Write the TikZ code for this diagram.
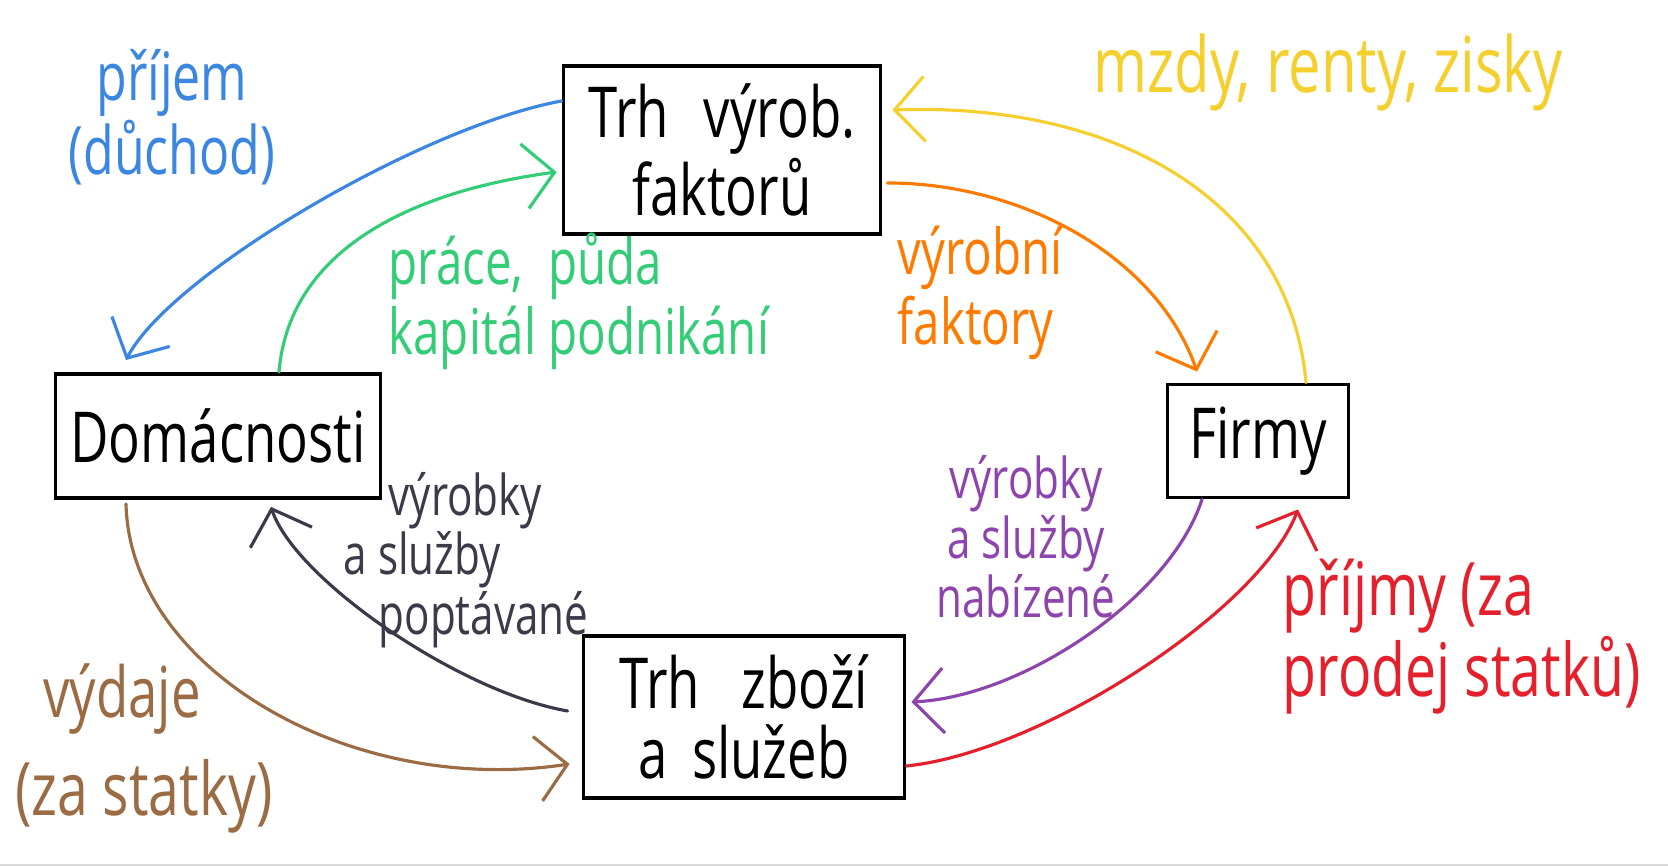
\documentclass[tikz,border=0pt]{standalone}
\usepackage{fontspec}
\setmainfont{Open Sans}[FakeStretch=0.75]
\usetikzlibrary{arrows.meta}

\definecolor{prijem}{HTML}{3A86E0}
\definecolor{prace}{HTML}{33CC77}
\definecolor{faktory}{HTML}{FF7A00}
\definecolor{mzdy}{HTML}{F5CF2E}
\definecolor{nabidka}{HTML}{8E44AD}
\definecolor{trzby}{HTML}{E3202B}
\definecolor{poptavka}{HTML}{3A3A48}
\definecolor{vydaje}{HTML}{9B6B43}

\newcommand{\handsize}[2]{\fontsize{#1}{#2}\selectfont\lineskiplimit=-50pt\lineskip=0pt\relax}

\begin{document}
\begin{tikzpicture}
	[every node/.style={font=\handsize{20}{22}},
	box/.style={draw,line width=1.1pt,align=center,inner sep=0pt},
	lab/.style={align=center,inner sep=0pt},
	flow/.style={line width=0.9pt,line cap=round,-{Straight Barb[length=3mm,width=6.5mm]}}]
	\useasboundingbox (0,0) rectangle (16.68,8.67);
	% trhy a subjekty
	\node (trhf) [box,minimum width=3.17cm,minimum height=1.68cm] at (7.22,7.17) {Trh\hspace{0.3em} výrob.\\faktorů};
	\node (dom) [box,minimum width=3.25cm,minimum height=1.24cm] at (2.18,4.31) {Domácnosti};
	\node (firmy) [box,minimum width=1.81cm,minimum height=1.13cm] at (12.58,4.26) {Firmy};
	\node (trhz) [box,minimum width=3.21cm,minimum height=1.62cm,font=\handsize{20}{20}] at (7.44,1.50) {Trh\hspace{0.4em} zboží\\a\hspace{0.15em} služeb};
	% toky
	\draw [flow,prijem] ([yshift=4.9mm]trhf.west) .. controls +(-1.41,-0.26) and +(0.44,0.85) .. ([xshift=-9.2mm,yshift=1.2mm]dom.north);
	\draw [flow,prace] ([xshift=6.1mm]dom.north) .. controls +(0.1,1.2) and +(-1.5,-0.2) .. ([xshift=-0.5mm,yshift=-2.2mm]trhf.west);
	\draw [flow,faktory] ([xshift=0.5mm,yshift=-3.3mm]trhf.east) .. controls +(1.35,0) and +(-0.4,1.15) .. ([xshift=-6.1mm,yshift=1.1mm]firmy.north);
	\draw [flow,mzdy] ([xshift=4.8mm]firmy.north) .. controls +(-0.16,1.78) and +(2.3,0.08) .. ([xshift=1mm,yshift=4mm]trhf.east);
	\draw [flow,nabidka] ([xshift=-5.6mm]firmy.south) .. controls +(-0.32,-0.99) and +(1.1,0.05) .. ([xshift=0.5mm,yshift=1.5mm]trhz.east);
	\draw [flow,trzby] ([yshift=-4.9mm]trhz.east) .. controls +(1.36,0.14) and +(-0.38,-1.0) .. ([xshift=4mm,yshift=-1mm]firmy.south);
	\draw [flow,poptavka] ([xshift=-1.4mm,yshift=0.6mm]trhz.west) .. controls +(-1.09,0.19) and +(0.24,-0.72) .. ([xshift=5.3mm,yshift=-0.7mm]dom.south);
	\draw [flow,vydaje] ([xshift=-9.2mm,yshift=-0.4mm]dom.south) .. controls +(0.04,-1.65) and +(-2.2,-0.33) .. ([xshift=-1.2mm,yshift=-4.7mm]trhz.west);
	% popisky
	\node (prijemlab) [lab,prijem,font=\handsize{19}{21}] at (1.72,7.50) {příjem\\(důchod)};
	\node (pracelab) [lab,prace,align=left,anchor=west,font=\handsize{18}{20}] at (3.88,5.66) {\makebox[1.6cm][l]{práce,}půda\\\makebox[1.6cm][l]{kapitál}podnikání};
	\node (faktorylab) [lab,faktory,align=left,anchor=west,font=\handsize{18}{20}] at (8.97,5.74) {výrobní\\faktory};
	\node (mzdylab) [lab,mzdy,font=\handsize{22}{24}] at (13.28,7.95) {mzdy, renty, zisky};
	\node (nabidkalab) [lab,nabidka,font=\handsize{16}{17}] at (10.26,3.30) {výrobky\\a služby\\nabízené};
	\node (trzbylab) [lab,trzby,align=left,anchor=west,font=\handsize{21}{23}] at (12.82,2.30) {příjmy (za\\prodej statků)};
	\node (poptavkalab) [lab,poptavka,align=left,anchor=west,font=\handsize{16}{17}] at (3.43,3.07) {\hspace*{4.5mm}výrobky\\a služby\\\hspace*{3.5mm}poptávané};
	\node (vydajelab) [lab,vydaje] at (1.22,1.68) {výdaje};
	\node (statkylab) [lab,vydaje,font=\handsize{21}{23}] at (1.44,0.71) {(za statky)};
	\draw [black!15] (0,0.02) -- (16.68,0.02);
\end{tikzpicture}
\end{document}
